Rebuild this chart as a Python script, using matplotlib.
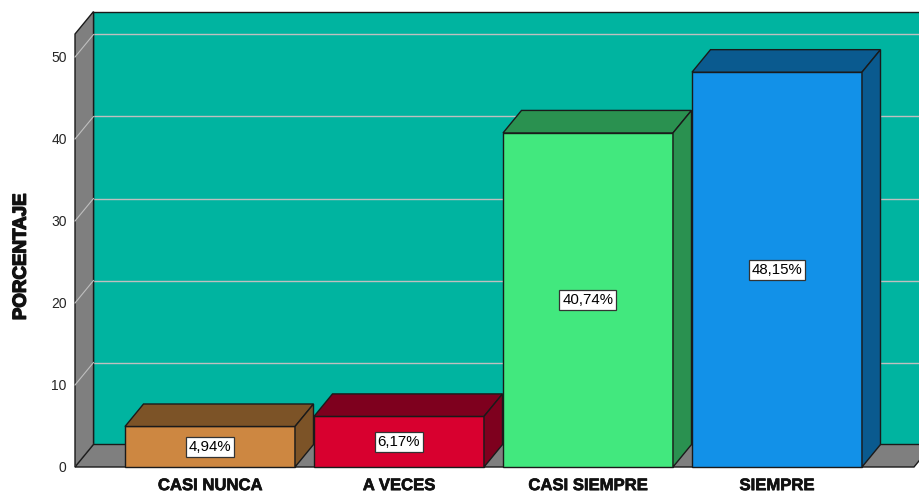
import matplotlib
matplotlib.use("Agg")
import matplotlib.pyplot as plt
from matplotlib.patches import Polygon
import matplotlib.patheffects as pe

plt.rcParams['font.family'] = ['Liberation Sans', 'DejaVu Sans']

categories = ["CASI NUNCA", "A VECES", "CASI SIEMPRE", "SIEMPRE"]
values = [4.94, 6.17, 40.74, 48.15]
labels = ["4,94%", "6,17%", "40,74%", "48,15%"]
yticks = [0, 10, 20, 30, 40, 50]
front_colors = ["#CD8741", "#D8002F", "#42E87E", "#1291E8"]
dark_colors = ["#7C5327", "#7E001E", "#2A9150", "#0A5A8F"]

W, H = 920, 499
fig = plt.figure(figsize=(W / 100, H / 100), dpi=100)
fig.patch.set_facecolor("white")

# axes layout (pixels)
px_left, px_right, px_bottom, px_top = 75, 914, 467, 0
ppu_y = 8.2          # pixels per percent
ppu_x = 189.0        # pixels per category
ax = fig.add_axes([px_left / W, (H - px_bottom) / H,
                   (px_right - px_left) / W, (px_bottom - px_top) / H])
x0 = -(210 - px_left) / ppu_x
ax.set_xlim(x0, x0 + (px_right - px_left) / ppu_x)
ax.set_ylim(0, (px_bottom - px_top) / ppu_y)

dx = 18.5 / ppu_x    # depth offset in data units
dy = 22.5 / ppu_y
ymax = 52.8
xl = x0
xr = x0 + (px_right - px_left) / ppu_x
bw = 170 / ppu_x

wall_c = "#00B4A0"
gray = "#7F7F7F"
edge = "#1a1a1a"

# back wall
ax.add_patch(Polygon([(xl + dx, dy), (xr + dx + 1, dy), (xr + dx + 1, ymax + dy), (xl + dx, ymax + dy)],
                     closed=True, facecolor=wall_c, edgecolor=edge, lw=1.0, clip_on=False, zorder=1))
# gridlines
for v in yticks:
    ax.plot([xl + dx, xr + dx + 1], [v + dy, v + dy], color="#BFBFBF", lw=1.0, clip_on=False, zorder=2)
# left wall
ax.add_patch(Polygon([(xl, 0), (xl, ymax), (xl + dx, ymax + dy), (xl + dx, dy)],
                     closed=True, facecolor=gray, edgecolor=edge, lw=1.0, clip_on=False, zorder=3))
for v in yticks:
    ax.plot([xl, xl + dx], [v, v + dy], color="#BFBFBF", lw=0.8, clip_on=False, zorder=3.5)
# floor
ax.add_patch(Polygon([(xl, 0), (xr, 0), (xr + dx, dy), (xl + dx, dy)],
                     closed=True, facecolor=gray, edgecolor=edge, lw=1.0, clip_on=False, zorder=4))

# bars
for i, (v, fc, dc, lab) in enumerate(zip(values, front_colors, dark_colors, labels)):
    a, b = i - bw / 2, i + bw / 2
    z = 5 + i
    ax.add_patch(Polygon([(a, 0), (b, 0), (b, v), (a, v)], closed=True,
                         facecolor=fc, edgecolor=edge, lw=1.0, zorder=z, clip_on=False))
    ax.add_patch(Polygon([(a, v), (b, v), (b + dx, v + dy), (a + dx, v + dy)], closed=True,
                         facecolor=dc, edgecolor=edge, lw=1.0, zorder=z, clip_on=False))
    ax.add_patch(Polygon([(b, 0), (b + dx, dy), (b + dx, v + dy), (b, v)], closed=True,
                         facecolor=dc, edgecolor=edge, lw=1.0, zorder=z, clip_on=False))
    ax.text(i, v / 2, lab, ha="center", va="center", fontsize=10.8, color="black", zorder=20,
            bbox=dict(boxstyle="square,pad=0.2", facecolor="white", edgecolor="#333333", lw=0.9))

for s in ax.spines.values():
    s.set_visible(False)
ax.set_facecolor("none")
ax.set_yticks(yticks)
ax.set_yticklabels([str(t) for t in yticks], fontsize=10, color="#262626")
ax.set_xticks(range(len(categories)))
ax.set_xticklabels(categories, fontsize=12, fontweight="bold", color="#111111")
heavy = [pe.withStroke(linewidth=0.5, foreground="#111111")]
for t in ax.get_xticklabels():
    t.set_path_effects(heavy)
ax.tick_params(axis="y", length=0, pad=6)
ax.tick_params(axis="x", length=0, pad=8)
yl = ax.set_ylabel("PORCENTAJE", fontsize=13.5, fontweight="bold", color="#111111")
yl.set_path_effects([pe.withStroke(linewidth=1.0, foreground="#111111")])
ax.yaxis.set_label_coords(-0.054, 0.45)

fig.savefig("out.png", dpi=100, facecolor="white")
